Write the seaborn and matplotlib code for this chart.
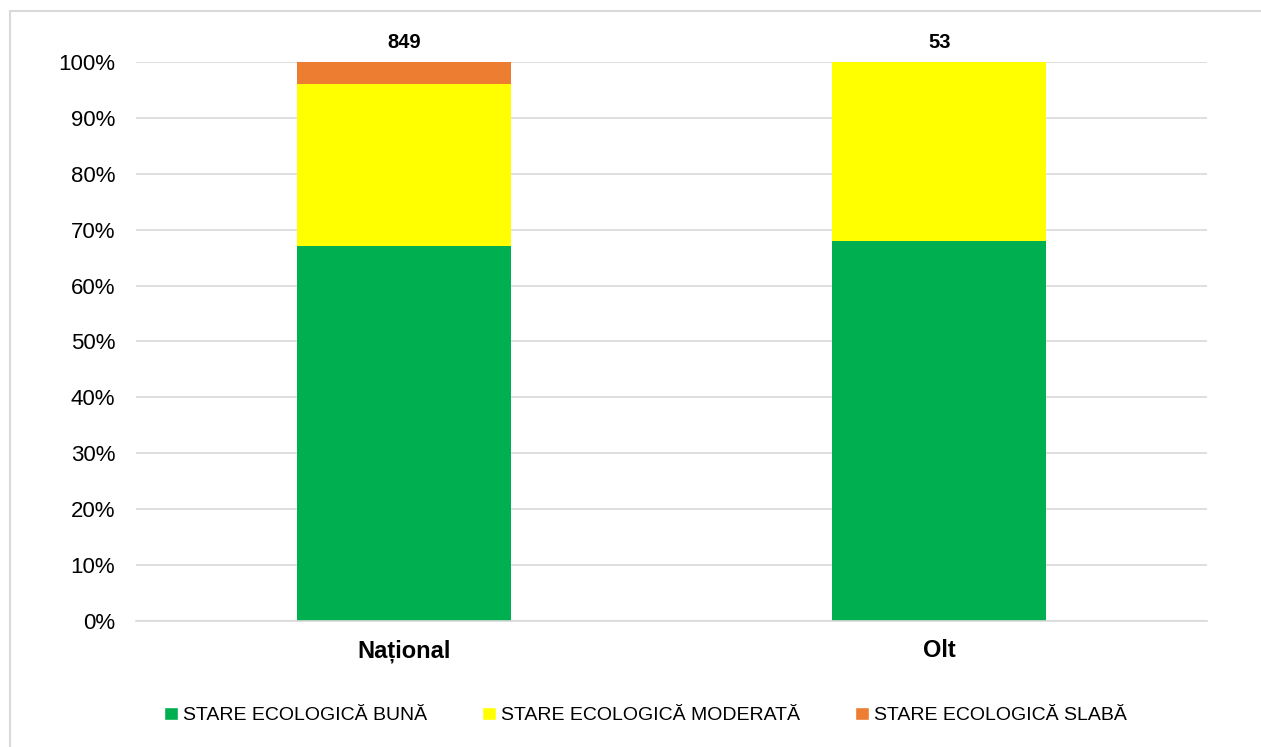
import matplotlib.pyplot as plt
import seaborn as sns
import pandas as pd
import numpy as np
from matplotlib.patches import Patch
from matplotlib.lines import Line2D

# Date
categorii = ["Național", "Olt"]
stari = ["STARE ECOLOGICĂ BUNĂ", "STARE ECOLOGICĂ MODERATĂ", "STARE ECOLOGICĂ SLABĂ"]
buna = [570, 36]
moderata = [246, 17]
slaba = [33, 0]
culori = ["#00B050", "#FFFF00", "#ED7D31"]

sns.set_theme(style="white")
plt.rcParams["font.family"] = ["Liberation Sans", "DejaVu Sans"]
plt.rcParams["text.color"] = "black"
plt.rcParams["xtick.color"] = "black"
plt.rcParams["ytick.color"] = "black"

df = pd.DataFrame({"categorie": categorii, "buna": buna, "moderata": moderata, "slaba": slaba})
df["total"] = df[["buna", "moderata", "slaba"]].sum(axis=1)
pct = df[["buna", "moderata", "slaba"]].div(df["total"], axis=0) * 100
cum = pct.cumsum(axis=1)

fig = plt.figure(figsize=(12.61, 7.47), dpi=100)
ax = fig.add_axes([0.1079, 0.1687, 0.9572 - 0.1079, 0.917 - 0.1687])

# straturi cumulative, de sus in jos
for col, c in zip(["slaba", "moderata", "buna"], culori[::-1]):
    sns.barplot(x=df["categorie"], y=cum[col], color=c, width=0.4,
                saturation=1, linewidth=0, ax=ax, zorder=3)

for i, tot in enumerate(df["total"]):
    ax.text(i, 103.4, str(tot), ha="center", va="center", fontsize=14.5,
            fontweight="bold", clip_on=False)

ax.set_xlim(-0.5, 1.5)
ax.set_ylim(0, 100)
ax.set_yticks(np.arange(0, 101, 10))
ax.set_yticklabels([f"{v}%" for v in range(0, 101, 10)], fontsize=16)
ax.set_xticks(range(len(categorii)))
ax.set_xticklabels(categorii, fontsize=17, fontweight="bold")
ax.tick_params(axis="y", pad=15, length=0)
ax.tick_params(axis="x", pad=13, length=0)
ax.set_xlabel("")
ax.set_ylabel("")
ax.yaxis.grid(True, color="#D9D9D9", linewidth=1.2, zorder=0)
for s in ["left", "right", "top"]:
    ax.spines[s].set_visible(False)
ax.spines["bottom"].set_color("#D9D9D9")
ax.spines["bottom"].set_linewidth(1.2)
ax.spines["bottom"].set_zorder(4)

handles = [Patch(facecolor=c, label=l) for c, l in zip(culori, stari)]
fig.legend(handles=handles, loc="center", bbox_to_anchor=(0.512, 0.042), ncol=3,
           frameon=False, handlelength=0.7, handleheight=0.7, handletextpad=0.3,
           columnspacing=2.8, prop={"size": 14})

# chenar exterior (doar sus si stanga)
x0 = 10 / 1261
y0 = 1 - 11 / 747
fig.add_artist(Line2D([x0, 1], [y0, y0], transform=fig.transFigure, color="#D9D9D9", linewidth=1.5))
fig.add_artist(Line2D([x0, x0], [0, y0], transform=fig.transFigure, color="#D9D9D9", linewidth=1.5))

fig.savefig("out.png", dpi=100)
